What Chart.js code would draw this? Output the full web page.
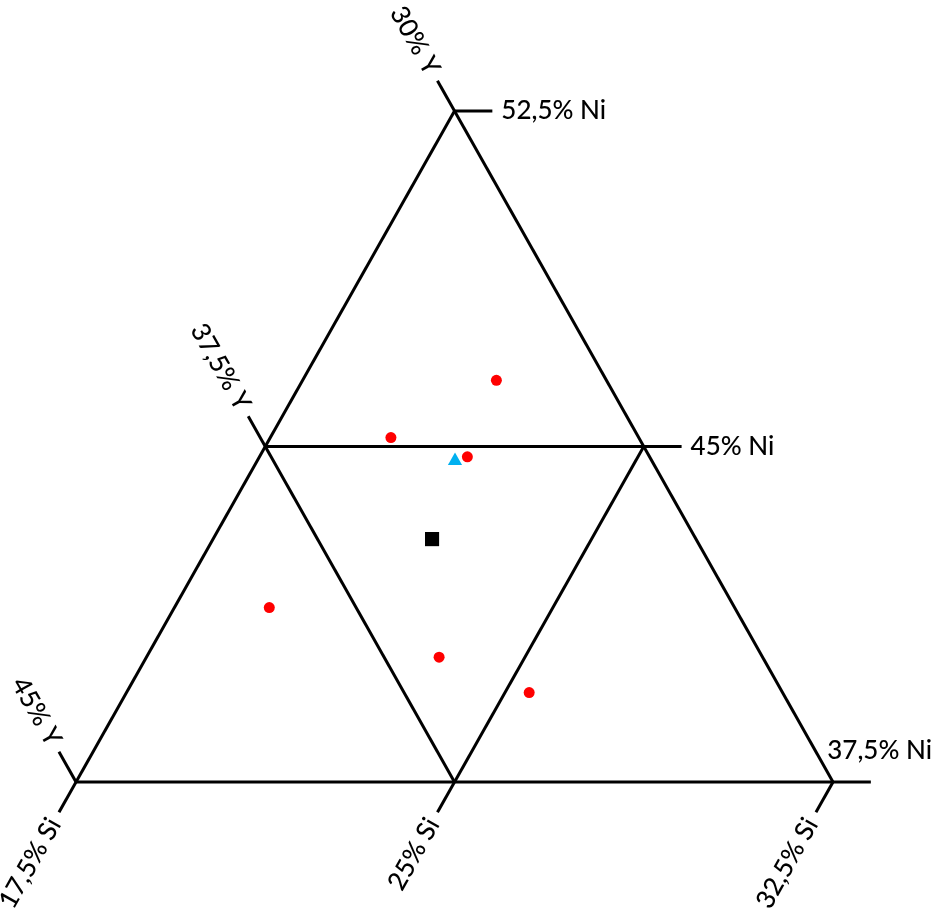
<!DOCTYPE html>
<html><head><meta charset="utf-8">
<script src="https://cdn.jsdelivr.net/npm/chart.js@4/dist/chart.umd.min.js"></script>
<style>html,body{margin:0;padding:0;background:#fff;}canvas{display:block;}</style>
</head><body>
<canvas id="c" width="937" height="922"></canvas>
<script>
// Ternary frame (Ni / Si / Y, at%)
const NI_MIN = 37.5, SI_MIN = 17.5, Y_MIN = 30, SPAN = 15;
const niTicks = [37.5, 45, 52.5];
const siTicks = [17.5, 25, 32.5];
const yTicks  = [30, 37.5, 45];
const niTickLabels = ['37,5% Ni', '45% Ni', '52,5% Ni'];
const siTickLabels = ['17,5% Si', '25% Si', '32,5% Si'];
const yTickLabels  = ['30% Y', '37,5% Y', '45% Y'];

// Measured compositions
const redNi = [46.48, 45.20, 44.77, 41.40, 40.29, 39.50];
const redSi = [21.34, 19.89, 21.62, 19.38, 23.30, 25.48];
const redY  = [32.18, 34.91, 33.61, 39.22, 36.41, 35.02];
const blueNi = [44.68];
const blueSi = [21.42];
const blueY  = [33.90];
const blackNi = [42.93];
const blackSi = [21.84];
const blackY  = [35.23];

const NI_EXT = 0.05, OTHER_EXT = 0.045;

function tern(ni, si) {
  const a = (ni - NI_MIN) / SPAN, b = (si - SI_MIN) / SPAN;
  return { x: b + a / 2, y: a };
}
function pts(niArr, siArr) { return niArr.map((n, i) => tern(n, siArr[i])); }

const lineSets = [];
const tickInfo = [];
niTicks.forEach((v, i) => {
  const yEnd = Y_MIN - NI_EXT * SPAN;
  const s = tern(v, SI_MIN), e = tern(v, 100 - v - yEnd);
  lineSets.push([s, e]);
  tickInfo.push({ kind: 'ni', label: niTickLabels[i], s, e });
});
yTicks.forEach((v, i) => {
  const siEnd = SI_MIN - OTHER_EXT * SPAN;
  const s = tern(NI_MIN, 100 - NI_MIN - v), e = tern(100 - v - siEnd, siEnd);
  lineSets.push([s, e]);
  tickInfo.push({ kind: 'y', label: yTickLabels[i], s, e });
});
siTicks.forEach((v, i) => {
  const niEnd = NI_MIN - OTHER_EXT * SPAN;
  const s = tern(100 - v - Y_MIN, v), e = tern(niEnd, v);
  lineSets.push([s, e]);
  tickInfo.push({ kind: 'si', label: siTickLabels[i], s, e });
});

const datasets = lineSets.map(d => ({
  type: 'scatter', data: d, showLine: true, borderColor: '#000', borderWidth: 3,
  pointRadius: 0, fill: false, borderCapStyle: 'butt', order: 5
}));
datasets.push({ type: 'scatter', data: pts(redNi, redSi), pointStyle: 'circle', pointRadius: 5.5,
  backgroundColor: '#FF0000', borderWidth: 0, order: 1 });
datasets.push({ type: 'scatter', data: pts(blueNi, blueSi), pointStyle: 'triangle', pointRadius: 8.2,
  backgroundColor: '#00B0F0', borderWidth: 0, order: 1 });
datasets.push({ type: 'scatter', data: pts(blackNi, blackSi), pointStyle: 'rect', pointRadius: 10,
  backgroundColor: '#000000', borderWidth: 0, order: 1 });

const FONT = '500 26px Lato';
const labelPlugin = {
  id: 'ternLabels',
  afterDatasetsDraw(chart) {
    const ctx = chart.ctx, xs = chart.scales.x, ys = chart.scales.y;
    ctx.save();
    ctx.font = FONT;
    ctx.fillStyle = '#000';
    tickInfo.forEach(t => {
      const sx = xs.getPixelForValue(t.s.x), sy = ys.getPixelForValue(t.s.y);
      const ex = xs.getPixelForValue(t.e.x), ey = ys.getPixelForValue(t.e.y);
      let ux = ex - sx, uy = ey - sy; const L = Math.hypot(ux, uy) || 1; ux /= L; uy /= L;
      if (t.kind === 'ni') {
        ctx.textAlign = 'left'; ctx.textBaseline = 'middle';
        const w = ctx.measureText(t.label).width;
        let x = ex + 9, y = ey;
        if (x + w > chart.width - 2) { x = chart.width - 5 - w; y = ey - 31; }
        ctx.fillText(t.label, x, y);
      } else {
        const gap = 9;
        const ax = ex + ux * gap, ay = ey + uy * gap;
        ctx.save();
        ctx.translate(ax, ay);
        ctx.rotate(Math.atan2(-uy, -ux));
        ctx.textAlign = 'right'; ctx.textBaseline = 'middle';
        ctx.fillText(t.label, 0, 0);
        ctx.restore();
      }
    });
    ctx.restore();
  }
};

new Chart(document.getElementById('c'), {
  type: 'scatter',
  data: { datasets },
  options: {
    responsive: false, devicePixelRatio: 1, animation: false,
    layout: { padding: { left: 76, right: 104, top: 111, bottom: 140 } },
    scales: {
      x: { type: 'linear', min: 0, max: 1, display: false },
      y: { type: 'linear', min: 0, max: 1, display: false }
    },
    clip: false,
    plugins: { legend: { display: false }, tooltip: { enabled: false } },
    elements: { line: { tension: 0 } }
  },
  plugins: [labelPlugin]
});
</script>
</body></html>
